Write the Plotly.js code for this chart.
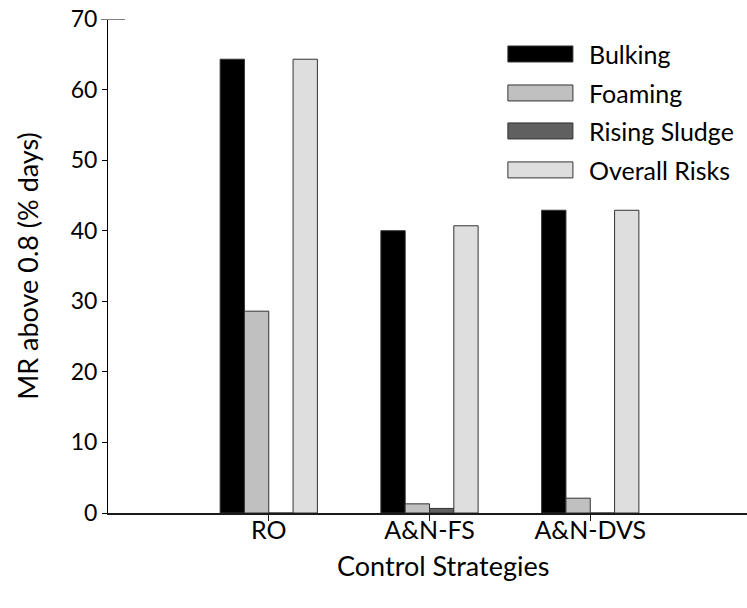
<!DOCTYPE html>
<html>
<head>
<meta charset="utf-8">
<script src="https://cdn.plot.ly/plotly-3.0.1.min.js"></script>
<style>
  html, body { margin: 0; padding: 0; background: #fff; }
  #chart { width: 747px; height: 608px; }
</style>
</head>
<body>
<div id="chart"></div>
<script>
// Control strategies on the x axis
const strategies = ["RO", "A&N-FS", "A&N-DVS"];

// Percentage of days with MR above 0.8, per risk type
const bulking      = [64.3, 40.0, 42.9];
const foaming      = [28.6, 1.3, 2.1];
const risingSludge = [0.0, 0.65, 0.0];
const overallRisks = [64.3, 40.7, 42.9];

const seriesNames  = ["Bulking", "Foaming", "Rising Sludge", "Overall Risks"];
const seriesValues = [bulking, foaming, risingSludge, overallRisks];
const seriesFills  = ["#000000", "#c0c0c0", "#606060", "#dedede"];

const xTitle = "Control Strategies";
const yTitle = "MR above 0.8 (% days)";

const FONT = "Lato, 'Open Sans', sans-serif";
const TXT = 25;
const TITLE = 27;

const traces = seriesNames.map((name, i) => ({
  type: "bar",
  name: name,
  x: strategies,
  y: seriesValues[i],
  marker: { color: seriesFills[i], line: { color: "#333333", width: 1 } },
  showlegend: false,
  hoverinfo: "x+y+name"
}));

// Pixel helpers for the hand-placed legend and axis caption
const plotLeft = 108.3, plotRight = 747, plotTop = 19, plotBottom = 513.3;
const px2x = p => (p - plotLeft) / (plotRight - plotLeft);
const px2y = p => (plotBottom - p) / (plotBottom - plotTop);
const rowCenters = [54, 93, 131, 170];

const shapes = [];
const annotations = [];
seriesNames.forEach((name, i) => {
  const cy = rowCenters[i];
  shapes.push({
    type: "rect", xref: "paper", yref: "paper",
    x0: px2x(508), x1: px2x(573), y0: px2y(cy + 8), y1: px2y(cy - 8),
    fillcolor: seriesFills[i], line: { color: "#333333", width: 1 }
  });
  annotations.push({
    xref: "paper", yref: "paper", x: px2x(587), y: px2y(cy),
    xanchor: "left", yanchor: "middle", showarrow: false,
    text: name, font: { family: FONT, size: TXT, color: "#000" }
  });
});

// Category axis caption
annotations.push({
  xref: "paper", yref: "paper", x: px2x(443), y: px2y(566),
  xanchor: "center", yanchor: "middle", showarrow: false,
  text: xTitle, font: { family: FONT, size: TITLE, color: "#000" }
});

// Short grey cap line at the top of the value axis
shapes.push({
  type: "line", xref: "paper", yref: "y",
  xsizemode: "pixel", xanchor: 0, x0: -7, x1: 17, y0: 70, y1: 70,
  line: { color: "#808080", width: 2 }
});

const layout = {
  width: 747, height: 608,
  margin: { l: 108, r: 0, t: 19, b: 95, pad: 0 },
  paper_bgcolor: "#ffffff", plot_bgcolor: "#ffffff",
  font: { family: FONT, size: TXT, color: "#000" },
  barmode: "group",
  bargap: 0.395,
  bargroupgap: 0,
  xaxis: {
    type: "category",
    range: [-1, 2.975],
    showline: true, linecolor: "#1a1a1a", linewidth: 2,
    ticks: "outside", ticklen: 6, tickcolor: "#1a1a1a", tickwidth: 1,
    ticklabelstandoff: -12,
    showgrid: false, zeroline: false,
    tickfont: { family: FONT, size: TXT, color: "#000" }
  },
  yaxis: {
    range: [0, 70], dtick: 10,
    showline: true, linecolor: "#000", linewidth: 1,
    ticks: "outside", ticklen: 5, tickcolor: "#000", tickwidth: 1,
    showgrid: false, zeroline: false,
    tickfont: { family: FONT, size: 23, color: "#000" },
    title: { text: yTitle, font: { family: FONT, size: TITLE, color: "#000" }, standoff: 24 }
  },
  shapes: shapes,
  annotations: annotations
};

Plotly.newPlot("chart", traces, layout, { displayModeBar: false, staticPlot: true });
</script>
</body>
</html>
